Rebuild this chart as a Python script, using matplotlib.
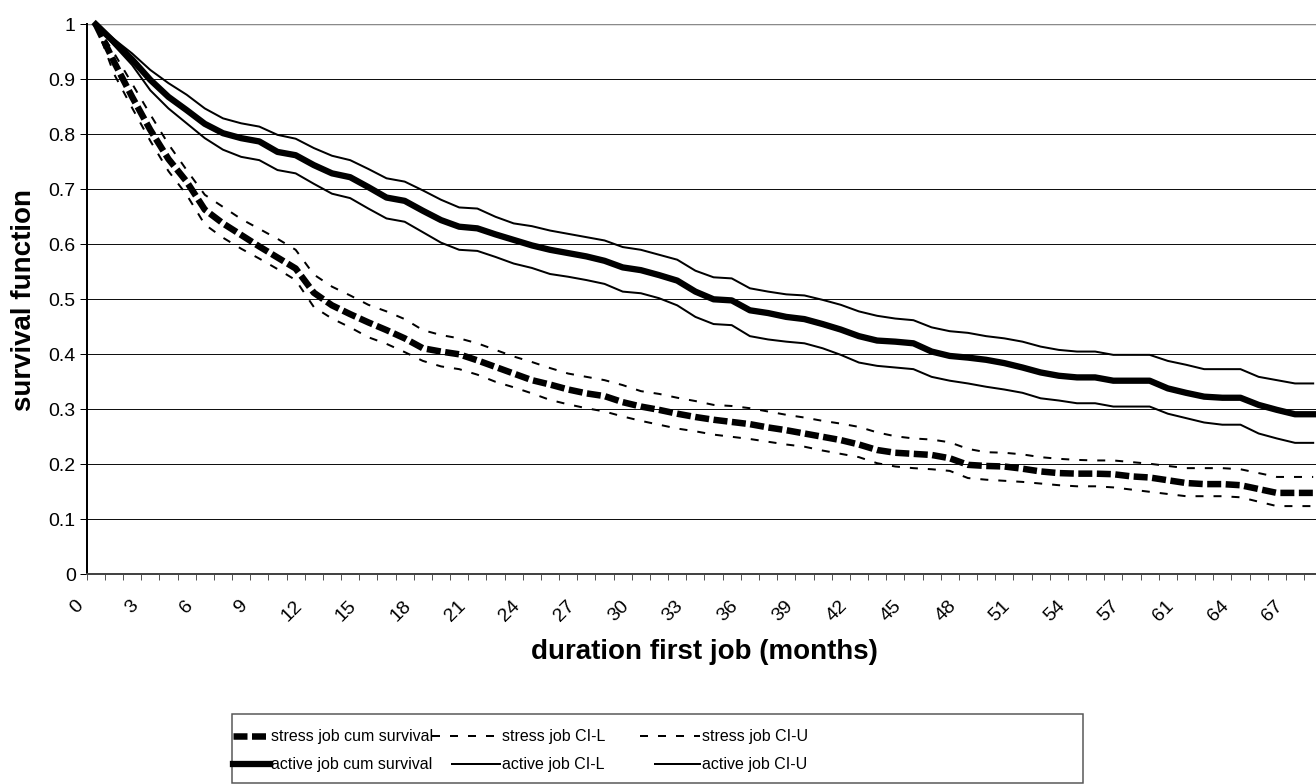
import matplotlib
matplotlib.use('Agg')
import matplotlib.pyplot as plt
from matplotlib.patches import Rectangle
import matplotlib.transforms as mtransforms

plt.rcParams['font.family'] = ['Liberation Sans', 'DejaVu Sans']
plt.rcParams['lines.scale_dashes'] = False

# ---------------- data ----------------
months = list(range(58)) + [58, 60, 61] + list(range(62, 69))

stress_cum = [1.000, 0.932, 0.868, 0.808, 0.755, 0.714, 0.663, 0.638, 0.617, 0.596,
              0.576, 0.556, 0.512, 0.489, 0.473, 0.458, 0.444, 0.429, 0.411, 0.405,
              0.400, 0.389, 0.377, 0.365, 0.353, 0.345, 0.336, 0.329, 0.324, 0.313,
              0.305, 0.299, 0.292, 0.286, 0.281, 0.277, 0.273, 0.267, 0.262, 0.256,
              0.250, 0.244, 0.236, 0.226, 0.221, 0.219, 0.217, 0.211, 0.199, 0.197,
              0.196, 0.192, 0.187, 0.184, 0.183, 0.183, 0.182, 0.178, 0.176, 0.171,
              0.166, 0.164, 0.164, 0.162, 0.155, 0.148, 0.148, 0.148]
stress_cil = [1.000, 0.910, 0.848, 0.788, 0.733, 0.690, 0.636, 0.612, 0.592, 0.574,
              0.555, 0.535, 0.486, 0.465, 0.449, 0.431, 0.419, 0.404, 0.388, 0.378,
              0.373, 0.363, 0.350, 0.340, 0.329, 0.317, 0.309, 0.302, 0.296, 0.287,
              0.279, 0.272, 0.265, 0.260, 0.254, 0.250, 0.246, 0.241, 0.236, 0.232,
              0.225, 0.219, 0.213, 0.202, 0.196, 0.193, 0.191, 0.188, 0.175, 0.172,
              0.170, 0.168, 0.165, 0.162, 0.160, 0.160, 0.158, 0.154, 0.150, 0.146,
              0.142, 0.142, 0.142, 0.140, 0.132, 0.124, 0.124, 0.124]
stress_ciu = [1.000, 0.948, 0.892, 0.836, 0.782, 0.735, 0.690, 0.668, 0.646, 0.628,
              0.610, 0.590, 0.545, 0.523, 0.507, 0.490, 0.478, 0.464, 0.444, 0.435,
              0.429, 0.420, 0.408, 0.396, 0.386, 0.375, 0.365, 0.359, 0.353, 0.344,
              0.333, 0.328, 0.321, 0.315, 0.308, 0.306, 0.302, 0.296, 0.290, 0.285,
              0.279, 0.274, 0.268, 0.258, 0.251, 0.247, 0.245, 0.240, 0.228, 0.222,
              0.221, 0.218, 0.213, 0.210, 0.208, 0.207, 0.207, 0.204, 0.201, 0.197,
              0.193, 0.193, 0.193, 0.191, 0.184, 0.177, 0.177, 0.177]
active_cum = [1.000, 0.968, 0.936, 0.899, 0.868, 0.844, 0.819, 0.802, 0.793, 0.787,
              0.768, 0.762, 0.744, 0.729, 0.722, 0.704, 0.685, 0.679, 0.661, 0.644,
              0.632, 0.629, 0.618, 0.608, 0.598, 0.590, 0.584, 0.578, 0.570, 0.558,
              0.553, 0.544, 0.534, 0.514, 0.500, 0.498, 0.480, 0.475, 0.468, 0.464,
              0.455, 0.445, 0.433, 0.425, 0.423, 0.420, 0.405, 0.397, 0.394, 0.390,
              0.384, 0.376, 0.367, 0.361, 0.358, 0.358, 0.352, 0.352, 0.352, 0.338,
              0.330, 0.323, 0.321, 0.321, 0.308, 0.299, 0.291, 0.291]
active_cil = [1.000, 0.962, 0.926, 0.880, 0.847, 0.820, 0.793, 0.772, 0.759, 0.753,
              0.735, 0.729, 0.710, 0.692, 0.684, 0.665, 0.647, 0.641, 0.622, 0.603,
              0.590, 0.588, 0.577, 0.565, 0.557, 0.546, 0.541, 0.535, 0.528, 0.514,
              0.511, 0.502, 0.489, 0.468, 0.455, 0.453, 0.433, 0.427, 0.423, 0.420,
              0.411, 0.399, 0.385, 0.379, 0.376, 0.373, 0.359, 0.352, 0.347, 0.341,
              0.336, 0.330, 0.320, 0.316, 0.311, 0.311, 0.305, 0.305, 0.305, 0.292,
              0.284, 0.276, 0.272, 0.272, 0.256, 0.247, 0.239, 0.239]
active_ciu = [1.000, 0.973, 0.947, 0.917, 0.893, 0.872, 0.847, 0.829, 0.820, 0.814,
              0.799, 0.792, 0.775, 0.761, 0.753, 0.737, 0.720, 0.714, 0.698, 0.681,
              0.667, 0.665, 0.650, 0.638, 0.633, 0.625, 0.619, 0.613, 0.607, 0.595,
              0.590, 0.581, 0.572, 0.552, 0.540, 0.538, 0.520, 0.514, 0.509, 0.507,
              0.499, 0.490, 0.478, 0.470, 0.465, 0.462, 0.449, 0.442, 0.439, 0.433,
              0.429, 0.423, 0.414, 0.408, 0.405, 0.405, 0.399, 0.399, 0.399, 0.388,
              0.381, 0.373, 0.373, 0.373, 0.359, 0.353, 0.347, 0.347]

labels = ['stress job cum survival', 'stress job CI-L', 'stress job CI-U',
          'active job cum survival', 'active job CI-L', 'active job CI-U']
y_ticks = [0, 0.1, 0.2, 0.3, 0.4, 0.5, 0.6, 0.7, 0.8, 0.9, 1]
y_ticklabels = ['0', '0.1', '0.2', '0.3', '0.4', '0.5', '0.6', '0.7', '0.8', '0.9', '1']

# ---------------- layout ----------------
W, H = 1316, 784
DPI = 100
PX = 72.0 / DPI   # points per pixel

fig = plt.figure(figsize=(W / DPI, H / DPI), dpi=DPI)
cat_w = 18.17
ax_left, ax_top, ax_bottom = 86.7, 24.3, 574.3
n = len(months)
ax = fig.add_axes([ax_left / W, 1 - ax_bottom / H, n * cat_w / W, (ax_bottom - ax_top) / H])

xc = [i + 0.5 for i in range(n)]   # categories sit between tick marks

styles = [
    dict(lw=6.5 * PX, dashes=(14 * PX, 4.5 * PX), dash_capstyle='butt'),
    dict(lw=2.0 * PX, dashes=(8 * PX, 10 * PX), dash_capstyle='butt'),
    dict(lw=2.0 * PX, dashes=(8 * PX, 10 * PX), dash_capstyle='butt'),
    dict(lw=6.3 * PX, ls='-', solid_joinstyle='round'),
    dict(lw=2.0 * PX, ls='-'),
    dict(lw=2.0 * PX, ls='-'),
]
series = [stress_cum, stress_cil, stress_ciu, active_cum, active_cil, active_ciu]
handles = []
for s, st, lab in zip(series, styles, labels):
    ln, = ax.plot(xc, s, color='black', clip_on=False, label=lab, zorder=3, **st)
    handles.append(ln)

ax.set_xlim(0, n)
ax.set_ylim(0, 1)
ax.set_yticks(y_ticks)
ax.set_yticklabels(y_ticklabels)
ax.set_xticks(range(n + 1))
ax.set_xticklabels([str(months[k]) if (k % 3 == 0 and k < n) else '' for k in range(n + 1)])

ax.yaxis.grid(True, color='#111111', lw=1.0 * PX)
ax.set_axisbelow(True)
ax.get_ygridlines()[-1].set_color('#8a8a8a')
ax.get_ygridlines()[-1].set_linewidth(2.5 * PX)

for side in ('top', 'right'):
    ax.spines[side].set_visible(False)
ax.spines['left'].set_linewidth(2 * PX)
ax.spines['left'].set_color('black')
ax.spines['bottom'].set_linewidth(2 * PX)
ax.spines['bottom'].set_color('#444444')

ax.tick_params(axis='y', direction='out', length=7 * PX, width=1 * PX,
               labelsize=14, pad=4 * PX, colors='black')
ax.tick_params(axis='x', direction='out', length=6 * PX, width=1 * PX,
               labelsize=14, pad=17 * PX, color='#555555', labelcolor='black')

offset = mtransforms.ScaledTranslation(-11.5 / DPI, 0, fig.dpi_scale_trans)
for lab in ax.get_xticklabels():
    lab.set_rotation(45)
    lab.set_ha('right')
    lab.set_va('top')
    lab.set_rotation_mode('anchor')
    lab.set_transform(lab.get_transform() + offset)

fig.text(24 / W, 1 - 300 / H, 'survival function', rotation=90, ha='center', va='center',
         fontsize=20, fontweight='bold')
fig.text(704 / W, 1 - 652 / H, 'duration first job (months)', ha='center', va='center',
         fontsize=20, fontweight='bold')

# ---------------- legend ----------------
leg_size = 11.5
fs_px = leg_size / PX

def entry(h, lab, x0, x1, xt, yc):
    hl = (x1 - x0) / fs_px
    pad = (xt - x1) / fs_px
    return fig.legend([h], [lab], loc='center left', bbox_to_anchor=(x0 / W, 1 - yc / H),
                      frameon=False, handlelength=hl, handletextpad=pad, borderpad=0,
                      borderaxespad=0, prop={'family': 'Liberation Sans', 'size': leg_size})

row1, row2 = 737, 765
entry(handles[0], labels[0], 233, 268, 271, row1)
entry(handles[1], labels[1], 432, 500, 502, row1)
entry(handles[2], labels[2], 640, 700, 702, row1)
entry(handles[3], labels[3], 233, 270, 271, row2)
entry(handles[4], labels[4], 452, 500, 502, row2)
entry(handles[5], labels[5], 655, 700, 702, row2)

fig.patches.append(Rectangle((232 / W, 1 - 783 / H), (1083 - 232) / W, (783 - 714) / H,
                             transform=fig.transFigure, fill=False, ec='#555555',
                             lw=1.5 * PX, zorder=5))

fig.savefig('out.png', dpi=DPI)
